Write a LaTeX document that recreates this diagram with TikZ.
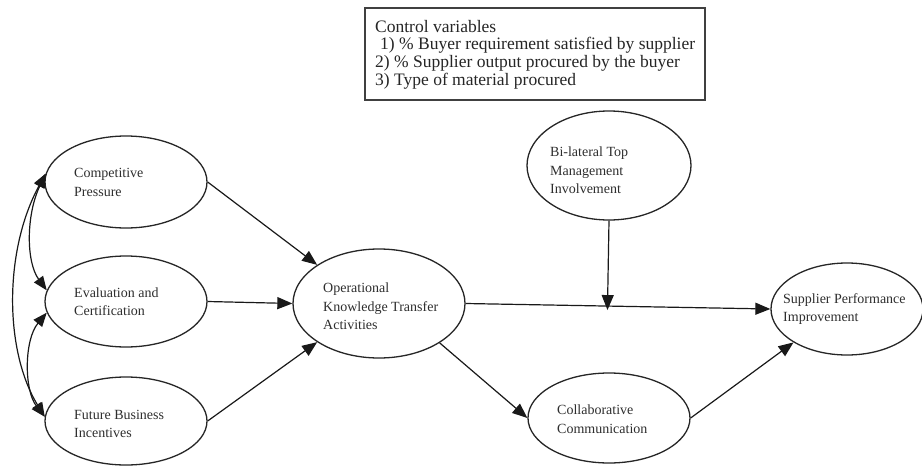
\documentclass[tikz,border=0pt]{standalone}
\usepackage{fontspec}
\setmainfont{Liberation Serif}
\usetikzlibrary{arrows.meta,calc,shapes.geometric}
\begin{document}
\begin{tikzpicture}[x=1pt,y=-1pt,
  var/.style={draw=black!85, line width=1.3pt, ellipse, inner sep=0pt},
  lbl/.style={anchor=west, align=left, inner sep=0pt, font=\fontsize{14}{18.5}\selectfont, text=black!82},
  arr/.style={-{Triangle[length=15pt,width=12pt]}, line width=1.2pt, draw=black!90},
  dbl/.style={{Triangle[length=14pt,width=11pt]}-{Triangle[length=14pt,width=11pt]}, line width=1.2pt, draw=black!90}]
\fill[white] (0,0) rectangle (922,466);
\useasboundingbox (0,0) rectangle (922,466);

% control variables box
\node[draw=black!75, line width=1.5pt, minimum width=340pt, minimum height=92pt, inner sep=0pt] (cv) at (535,54) {};
\node[anchor=north west, align=left, inner sep=0pt, font=\fontsize{17.5}{17.6}\selectfont, text=black!85] (cvT) at (375,20)
  {Control variables\\\hspace*{5pt}1) \% Buyer requirement satisfied by supplier\\2) \% Supplier output procured by the buyer\\3) Type of material procured};

% ellipses
\node[var, minimum width=162pt, minimum height=92pt] (cp) at (126,182) {};
\node[var, minimum width=162pt, minimum height=91pt] (ec) at (126,301.5) {};
\node[var, minimum width=162pt, minimum height=88pt] (fb) at (126,421) {};
\node[var, minimum width=172pt, minimum height=109pt] (ok) at (379,303.5) {};
\node[var, minimum width=164pt, minimum height=109pt] (bi) at (609,165.5) {};
\node[var, minimum width=162pt, minimum height=90pt] (cc) at (609,418) {};
\node[var, minimum width=152pt, minimum height=92pt] (sp) at (847,309) {};

% labels
\node[lbl] (cpT) at (74,182.5) {Competitive\\Pressure};
\node[lbl] (ecT) at (74,301.5) {Evaluation and\\Certification};
\node[lbl] (fbT) at (74,424) {Future Business\\Incentives};
\node[lbl] (okT) at (323,306.5) {Operational\\Knowledge Transfer\\Activities};
\node[lbl] (biT) at (550,170.5) {Bi-lateral Top\\Management\\Involvement};
\node[lbl] (ccT) at (557,419) {Collaborative\\Communication};
\node[lbl] (spT) at (783,309) {Supplier Performance\\Improvement};

% correlations
\draw[dbl] (cp.174) .. controls (26,215) and (26,262) .. (ec.172);
\draw[dbl] (ec.188) .. controls (24,340) and (24,390) .. (fb.177);
\draw[dbl] (cp.174) .. controls (4,250) and (4,350) .. (fb.177);

% paths
\draw[arr] (cp.east) -- (ok.148);
\draw[arr] (ec.east) -- (ok.west);
\draw[arr] (fb.east) -- (ok.212);
\draw[arr] (ok.east) -- (sp.west);
\coordinate (m0) at ($(ok.east)!(bi.south)!(sp.west)$);
\coordinate (m) at ($(m0)+(0,4)$);
\draw[arr] (bi.south) -- (m);
\draw[arr] (ok.327) -- (cc.west);
\draw[arr] (cc.east) -- (sp.212);
\end{tikzpicture}
\end{document}
